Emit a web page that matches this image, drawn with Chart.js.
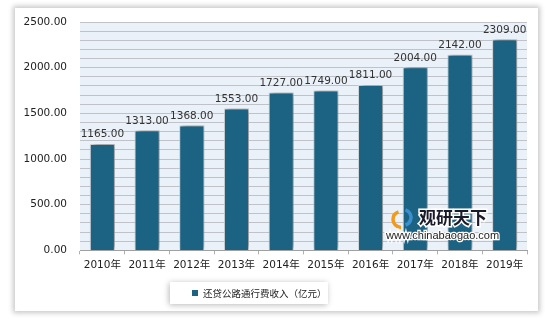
<!DOCTYPE html>
<html>
<head>
<meta charset="utf-8">
<script src="https://cdn.jsdelivr.net/npm/chart.js@4.4.0/dist/chart.umd.min.js"></script>
<style>
  body { margin: 0; background: #ffffff; width: 546px; height: 319px; overflow: hidden; }
  #card { position: absolute; left: 15px; top: 8px; width: 523px; height: 303px; background: #fff;
          box-shadow: 0 0 5px 2px rgba(0,0,0,0.22); }
</style>
</head>
<body>
<div id="card"><canvas id="myChart" width="523" height="303"></canvas></div>
<script>
  // data
  var years = ['2010年','2011年','2012年','2013年','2014年','2015年','2016年','2017年','2018年','2019年'];
  var income = [1165, 1313, 1368, 1553, 1727, 1749, 1811, 2004, 2142, 2309];
  var seriesName = '还贷公路通行费收入（亿元）';
  var yMax = 2500;

  var FONT = 'DejaVu Sans, "Noto Sans CJK SC", sans-serif';
  var BAR = '#1b6283';

  // plot background, bar shadow, value labels, legend, watermark
  var decor = {
    id: 'decor',
    beforeDraw: function (chart) {
      var a = chart.chartArea, ctx = chart.ctx;
      ctx.save();
      ctx.fillStyle = '#eaf1f8';
      ctx.fillRect(a.left, a.top, a.right - a.left, a.bottom - a.top);
      ctx.restore();
    },
    beforeDatasetDraw: function (chart) {
      var ctx = chart.ctx;
      ctx.save();
      ctx.shadowColor = 'rgba(0,0,0,0.45)';
      ctx.shadowBlur = 5;
      ctx.shadowOffsetX = 2;
      ctx.shadowOffsetY = -1;
    },
    afterDatasetDraw: function (chart) {
      chart.ctx.restore();
    },
    afterDatasetsDraw: function (chart) {
      var ctx = chart.ctx;
      var meta = chart.getDatasetMeta(0);
      ctx.save();
      ctx.font = '10.5px ' + FONT;
      ctx.fillStyle = '#333';
      ctx.textAlign = 'center';
      ctx.textBaseline = 'bottom';
      meta.data.forEach(function (bar, i) {
        ctx.fillText(income[i].toFixed(2), bar.x, bar.y - 4);
      });
      // watermark
      var a = chart.chartArea;
      var wx = a.right - 138, wy = a.bottom - 44;
      ctx.lineWidth = 3.5;
      ctx.strokeStyle = '#f39a1e';
      ctx.beginPath(); ctx.arc(wx + 12, wy + 13, 8, Math.PI * 0.5, Math.PI * 1.4); ctx.stroke();
      ctx.strokeStyle = '#3a8fd0';
      ctx.beginPath(); ctx.arc(wx + 14, wy + 11, 8, Math.PI * 1.6, Math.PI * 0.4); ctx.stroke();
      ctx.fillStyle = '#1a1a2a';
      ctx.textAlign = 'left';
      ctx.textBaseline = 'middle';
      ctx.font = 'bold 17px "Noto Sans CJK SC", sans-serif';
      ctx.strokeStyle = '#fff';
      ctx.lineWidth = 3;
      ctx.strokeText('观研天下', wx + 30, wy + 11);
      ctx.fillText('观研天下', wx + 30, wy + 11);
      ctx.font = '11px "Liberation Sans", sans-serif';
      ctx.fillStyle = '#222';
      ctx.lineWidth = 2.5;
      ctx.strokeText('www.chinabaogao.com', wx - 3, wy + 30);
      ctx.fillText('www.chinabaogao.com', wx - 3, wy + 30);
      ctx.restore();
    },
    afterDraw: function (chart) {
      var ctx = chart.ctx;
      var x = 155, y = 274, w = 158, h = 22;
      ctx.save();
      ctx.shadowColor = 'rgba(0,0,0,0.28)';
      ctx.shadowBlur = 6;
      ctx.shadowOffsetX = -1;
      ctx.shadowOffsetY = 1;
      ctx.fillStyle = '#fff';
      ctx.fillRect(x, y, w, h);
      ctx.restore();
      ctx.save();
      ctx.fillStyle = BAR;
      ctx.fillRect(x + 22, y + 8, 6, 6);
      ctx.fillStyle = '#222';
      ctx.font = '9.5px "Noto Sans CJK SC", sans-serif';
      ctx.textBaseline = 'middle';
      ctx.fillText(chart.data.datasets[0].label, x + 33, y + 11.5);
      ctx.restore();
    }
  };

  var ctx = document.getElementById('myChart').getContext('2d');
  var chart = new Chart(ctx, {
    type: 'bar',
    data: {
      labels: years,
      datasets: [{
        label: seriesName,
        data: income,
        backgroundColor: BAR,
        borderColor: '#d8dde2',
        borderWidth: 1,
        categoryPercentage: 1,
        barPercentage: 0.56
      }]
    },
    options: {
      responsive: false,
      animation: false,
      layout: { padding: { left: 0, right: 11, top: 14, bottom: 34 } },
      scales: {
        x: {
          grid: { display: true, drawOnChartArea: false, offset: true, color: '#b0b0b0', tickLength: 4 },
          border: { color: '#a0a0a0' },
          ticks: { color: '#222', font: { family: FONT, size: 10.5 }, padding: 5, maxRotation: 0 }
        },
        y: {
          min: 0,
          max: yMax,
          afterFit: function (s) { s.width = 65; s.paddingTop = 0; s.paddingBottom = 0; },
          grid: { color: '#bfc3c7', drawTicks: false },
          border: { display: false },
          ticks: {
            stepSize: 100,
            autoSkip: false,
            padding: 13,
            color: '#222',
            font: { family: FONT, size: 10.5 },
            callback: function (v) { return v % 500 === 0 ? v.toFixed(2) : ''; }
          }
        }
      },
      plugins: {
        legend: { display: false },
        tooltip: { enabled: false }
      }
    },
    plugins: [decor]
  });
</script>
</body>
</html>
